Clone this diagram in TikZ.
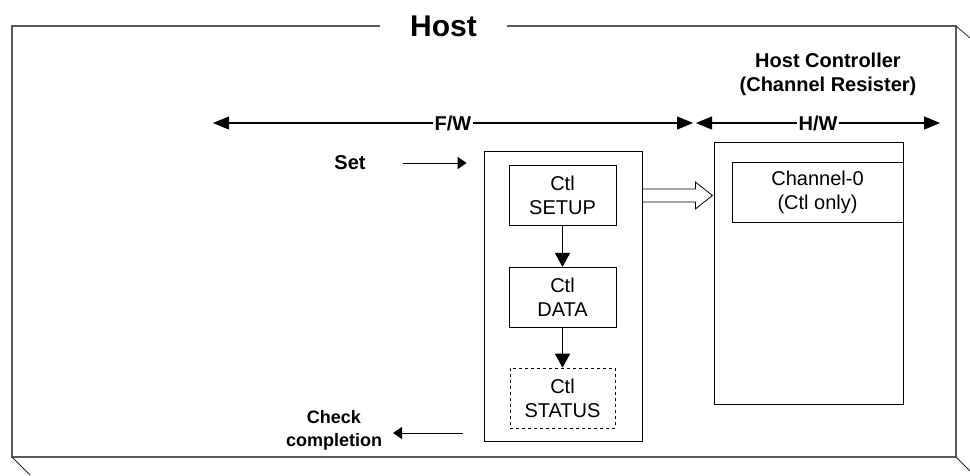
\documentclass[tikz,border=0pt]{standalone}
\usepackage{fontspec}
\setmainfont{Liberation Sans}
\usetikzlibrary{positioning,arrows.meta,calc}

\tikzset{
  ctlbox/.style={draw, rectangle, minimum width=107pt, minimum height=60pt, align=center, inner sep=0pt},
  bigtip/.style={-{Triangle[length=16pt,width=13pt]}},
  smalltip/.style={line width=1pt, -{Triangle[length=9pt,width=12pt]}},
  downtip/.style={line width=1.5pt, -{Triangle[length=14pt,width=15pt]}},
}

\begin{document}
\fontsize{20}{24}\selectfont
\begin{tikzpicture}[x=1pt, y=-1pt, line width=0.8pt, node distance=40pt]
    \useasboundingbox (0,0) rectangle (970,475);

    % Frame
    \draw[line width=1.5pt, black!65] (12,26) rectangle (956,457);
    \draw[black!85] (956,26) -- (970,38) (956,457) -- (970,471) (12,457) -- (30,475);
    \node (host) [fill=white, minimum width=127pt, inner sep=0pt, font=\fontsize{30}{36}\selectfont\bfseries] at (443.5,26) {Host};

    % Nodes
    \node (ctl) [draw, rectangle, minimum width=158pt, minimum height=290pt] at (563,296) {};
    \node (setup) [ctlbox] at (562.5,195.5) {Ctl\\SETUP};
    \node (data) [ctlbox, below=41pt of setup] {Ctl\\DATA};
    \node (status) [ctlbox, dashed, line width=0.6pt, minimum width=105pt, below=40pt of data] {Ctl\\STATUS};
    \node (hc) [draw, rectangle, minimum width=189pt, minimum height=262pt] at (808.5,273) {};
    \node (ch0) [draw, rectangle, minimum width=171pt, minimum height=60pt, align=center, inner sep=0pt] at (817.5,192) {Channel-0\\(Ctl only)};
    \node (hctitle) [align=center, font=\bfseries] at (828,74) {Host Controller\\(Channel Resister)};
    \node (set) [font=\bfseries] at (350,163) {Set};
    \node (check) [align=center, font=\fontsize{18}{23}\selectfont\bfseries] at (334,430) {Check\\completion};

    \coordinate (fwl) at (213,123);
    \coordinate (fwr) at (693,123);
    \coordinate (hwl) at (696,123);
    \coordinate (hwr) at (940,123);
    \coordinate (chk) at (463,433);
    \coordinate (chkend) at (393,433);

    % Arrows
    \draw[line width=1.1pt, {Triangle[length=16pt,width=13pt]}-{Triangle[length=16pt,width=13pt]}] (fwl) -- node[fill=white, font=\bfseries, inner xsep=2pt] {F/W} (fwr);
    \draw[line width=1.1pt, {Triangle[length=16pt,width=13pt]}-{Triangle[length=16pt,width=13pt]}] (hwl) -- node[fill=white, font=\bfseries, inner xsep=2pt] {H/W} (hwr);
    \draw[smalltip] ([xshift=30pt]set.east) -- ([xshift=-17pt]ctl.west |- set);
    \draw[smalltip] (chk) -- (chkend);
    \draw[downtip] (setup) -- (data);
    \draw[downtip] (data) -- (status);
    \draw[fill=white] (ctl.east |- setup) ++(0,-6.5) -- ++(53,0) -- ++(0,-7) -- ++(17,13.5) -- ++(-17,13.5) -- ++(0,-7) -- ++(-53,0) -- cycle;
\end{tikzpicture}
\end{document}
